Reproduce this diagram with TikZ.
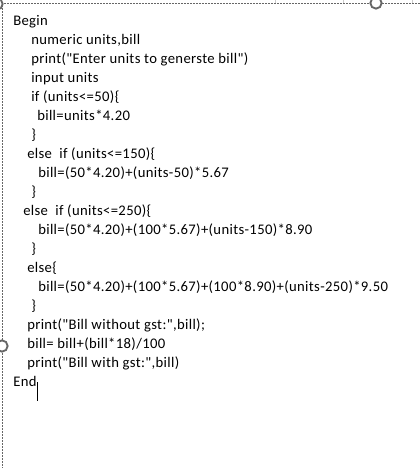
\documentclass[tikz,border=0pt]{standalone}
\usepackage{fontspec}
\setmainfont{Carlito}[Ligatures=TeXOff,LetterSpace=2.4]
\begin{document}
\begin{tikzpicture}[x=0.75pt,y=-0.75pt,
  codeline/.style={anchor=base west,inner sep=0pt,font=\fontsize{11pt}{13pt}\selectfont,text=black},
  frameline/.style={draw=black!60,line width=0.75pt,dash pattern=on 1.5pt off 0.75pt},
  handle/.style={draw=black!60,line width=1.4pt,fill=white,circle,minimum size=8.5pt,inner sep=0pt}]
\useasboundingbox (0,0) rectangle (419,468);
% faint ticks
\foreach \tx/\tn in {275/ta,343/tb,412/tc}{
  \coordinate (\tn1) at (\tx,0); \coordinate (\tn2) at (\tx,4);
  \draw[black!20,line width=0.5pt] (\tn1) -- (\tn2);
}
% frame
\coordinate (tl) at (2,3);
\coordinate (tr) at (420,3);
\coordinate (bl) at (2,469);
\draw[frameline] (tr) -- (tl) -- (bl);
% handles
\node[handle] (h1) at (-3,4) {};
\node[handle] (h2) at (376,3) {};
\node[handle] (h3) at (2,346) {};
% code
\node[codeline] (l1)  at (13,25)   {Begin};
\node[codeline] (l2)  at (31,44)   {numeric units,bill};
\node[codeline] (l3)  at (31,63)   {print("Enter units to generste bill")};
\node[codeline] (l4)  at (31,82)   {input units};
\node[codeline] (l5)  at (31,101)  {if (units<=50)\{};
\node[codeline] (l6)  at (37,120)  {bill=units*4.20};
\node[codeline] (l7)  at (31,139)  {\}};
\node[codeline] (l8)  at (27,158)  {else~ if (units<=150)\{};
\node[codeline] (l9)  at (38,177)  {bill=(50*4.20)+(units-50)*5.67};
\node[codeline] (l10) at (31,196)  {\}};
\node[codeline] (l11) at (23,215)  {else~ if (units<=250)\{};
\node[codeline] (l12) at (38,234)  {bill=(50*4.20)+(100*5.67)+(units-150)*8.90};
\node[codeline] (l13) at (31,253)  {\}};
\node[codeline] (l14) at (27,272)  {else\{};
\node[codeline] (l15) at (38,291)  {bill=(50*4.20)+(100*5.67)+(100*8.90)+(units-250)*9.50};
\node[codeline] (l16) at (31,310)  {\}};
\node[codeline] (l17) at (27,329)  {print("Bill without gst:",bill);};
\node[codeline] (l18) at (27,348)  {bill= bill+(bill*18)/100};
\node[codeline] (l19) at (27,367)  {print("Bill with gst:",bill)};
\node[codeline] (l20) at (13,386)  {End};
% cursor
\coordinate (c1) at ([xshift=0.6pt]l20.base east);
\draw[black,line width=0.8pt] ([yshift=3pt]c1) -- ([yshift=-11pt]c1);
\end{tikzpicture}
\end{document}
